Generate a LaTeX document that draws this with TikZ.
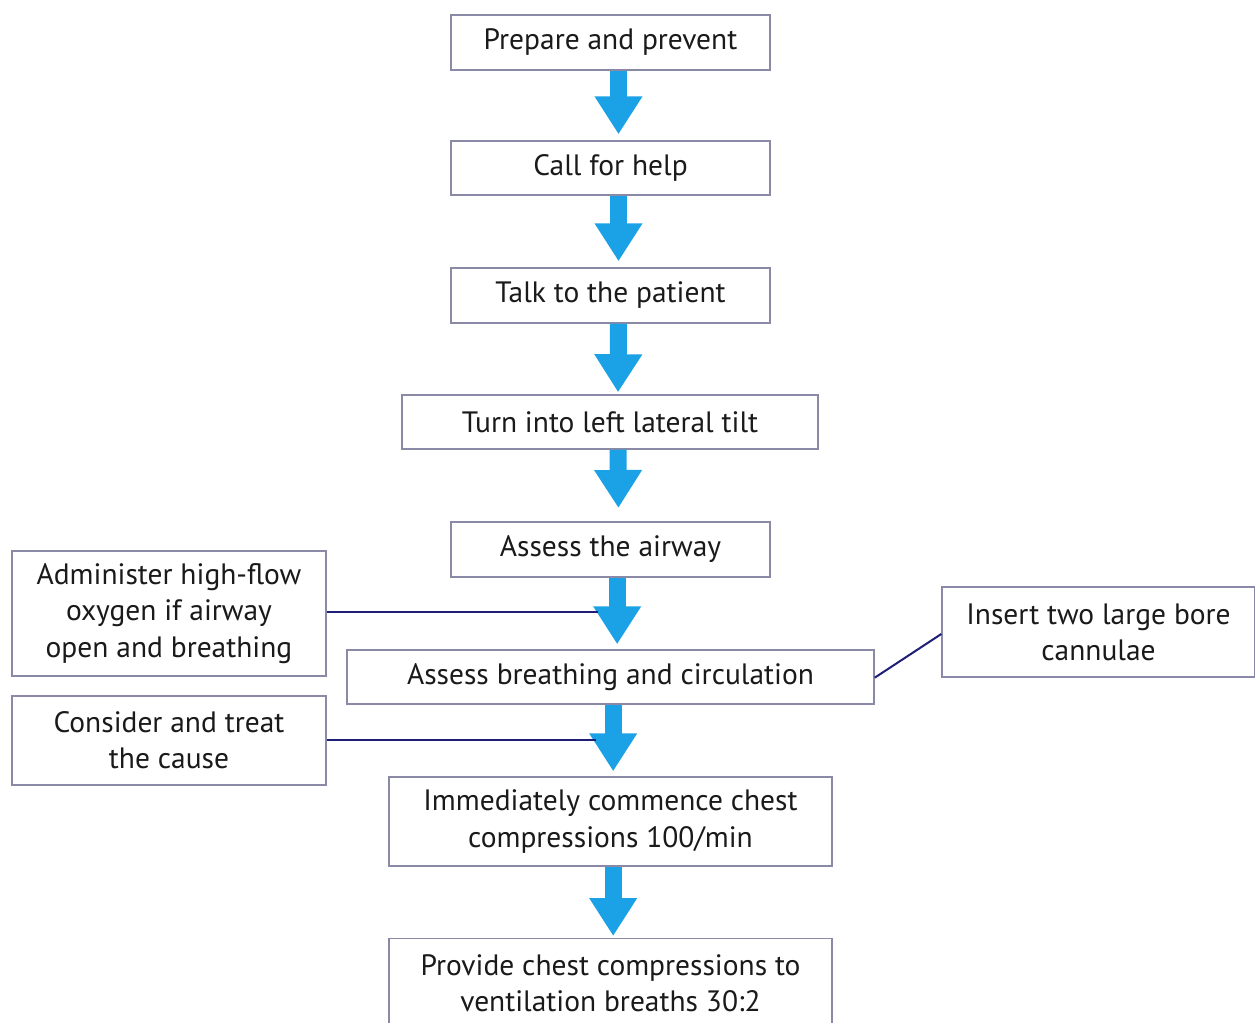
\documentclass[tikz,border=0pt]{standalone}
\usepackage{fontspec}
\setmainfont{PT Sans}
\usetikzlibrary{arrows.meta}
\definecolor{arrowblue}{HTML}{1BA1E6}
\definecolor{boxline}{HTML}{8A8AA6}
\definecolor{linknavy}{HTML}{1E1E78}
\definecolor{txt}{HTML}{1A1A1A}
\tikzset{
  px/.style={x=0.75pt,y=-0.75pt},
  stepbox/.style={draw=boxline,line width=1.1pt,fill=white,text=txt,align=center,
    inner sep=0pt,font=\fontsize{22.1pt}{27.2pt}\selectfont},
  flow/.style={arrowblue,line width=12.75pt,
    -{Triangle[width=34pt,length=28.5pt]}},
  link/.style={draw=linknavy,line width=1.5pt}
}
\begin{document}
\begin{tikzpicture}[px]
\useasboundingbox (0,0) rectangle (1255,1022);
% main column
\node[stepbox,minimum width=239.25pt,minimum height=41.25pt] (n1) at (610.5,42.5) {Prepare and prevent};
\node[stepbox,minimum width=239.25pt,minimum height=40.5pt] (n2) at (610.5,168) {Call for help};
\node[stepbox,minimum width=239.25pt,minimum height=41.25pt] (n3) at (610.5,295.5) {Talk to the patient};
\node[stepbox,minimum width=312pt,minimum height=40.5pt] (n4) at (610,422) {Turn into left lateral tilt};
\node[stepbox,minimum width=239.25pt,minimum height=41.25pt] (n5) at (610.5,549.5) {Assess the airway};
\node[stepbox,minimum width=395.25pt,minimum height=40.5pt] (n6) at (610.5,677) {Assess breathing and circulation};
\node[stepbox,minimum width=332.25pt,minimum height=66.75pt] (n7) at (610.5,821.5) {Immediately commence chest\\compressions 100/min};
\node[stepbox,minimum width=332.25pt,minimum height=66.75pt,anchor=north] (n8) at (610.5,938) {Provide chest compressions to\\ventilation breaths 30:2};
% side boxes
\node[stepbox,minimum width=235.5pt,minimum height=93.75pt] (s1) at (169,613.5) {Administer high-flow\\oxygen if airway\\open and breathing};
\node[stepbox,minimum width=235.5pt,minimum height=66.75pt] (s2) at (169,740.5) {Consider and treat\\the cause};
\node[stepbox,minimum width=234.75pt,minimum height=67.5pt] (s3) at (1098.5,632) {Insert two large bore\\cannulae};
% arrows
\draw[flow,shorten >=4.5pt] ([xshift=6pt]n1.south) -- ([xshift=6pt]n2.north);
\draw[flow,shorten >=4.5pt] ([xshift=6pt]n2.south) -- ([xshift=6pt]n3.north);
\draw[flow,shorten >=1.5pt] ([xshift=6pt]n3.south) -- ([xshift=6pt]n4.north);
\draw[flow,shorten >=10pt] ([xshift=6pt]n4.south) -- ([xshift=6pt]n5.north);
\draw[flow,shorten >=3.75pt] ([xshift=5pt]n5.south) -- ([xshift=5pt]n6.north);
\draw[flow,shorten >=3.75pt] ([xshift=2pt]n6.south) -- ([xshift=2pt]n7.north);
\draw[flow,shorten >=1.5pt] ([xshift=2pt]n7.south) -- ([xshift=2pt]n8.north);
% side links
\coordinate (j1) at (598,612);
\coordinate (j2) at (596,740);
\draw[link] (s1.east |- j1) -- (j1);
\draw[link] (s2.east |- j2) -- (j2);
\draw[link] ([yshift=-0.5pt]n6.east) -- ([yshift=-1.5pt]s3.west);
\end{tikzpicture}
\end{document}
